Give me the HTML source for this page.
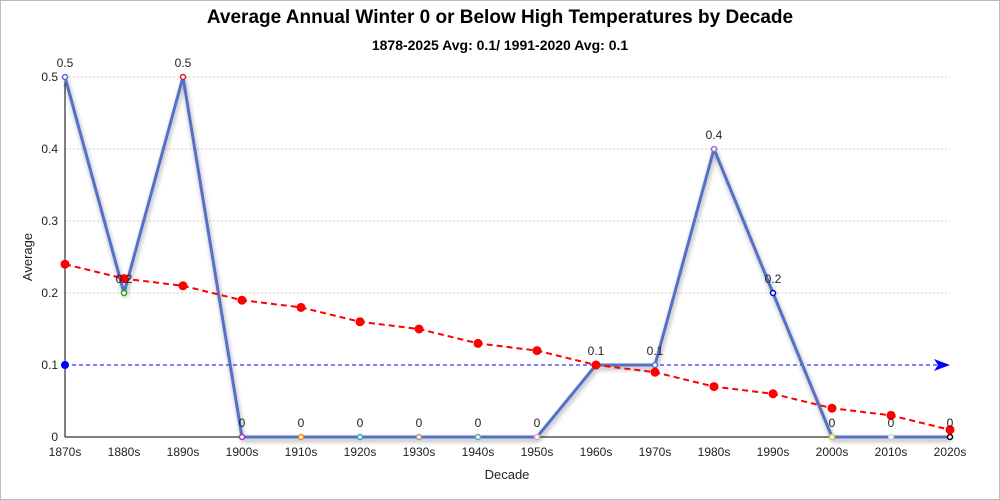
<!DOCTYPE html>
<html><head><meta charset="utf-8"><style>
html,body{margin:0;padding:0;background:#fff}
svg{display:block;font-family:"Liberation Sans","DejaVu Sans",sans-serif}
</style></head><body>
<svg width="1000" height="500" viewBox="0 0 1000 500">
<defs><filter id="sh" x="-10%" y="-10%" width="120%" height="130%"><feDropShadow dx="1" dy="3" stdDeviation="2.5" flood-color="#000" flood-opacity="0.35"/></filter></defs>
<rect x="0.5" y="0.5" width="999" height="499" fill="#fff" stroke="#bbb"/>
<text x="500" y="23" text-anchor="middle" font-size="19" font-weight="bold">Average Annual Winter 0 or Below High Temperatures by Decade</text>
<text x="500" y="50" text-anchor="middle" font-size="14" font-weight="bold">1878-2025 Avg: 0.1/ 1991-2020 Avg: 0.1</text>
<g stroke="#ccc" stroke-dasharray="2,2" stroke-width="1">
<line x1="65" x2="950" y1="77" y2="77"/><line x1="65" x2="950" y1="149" y2="149"/><line x1="65" x2="950" y1="221" y2="221"/><line x1="65" x2="950" y1="293" y2="293"/>
</g>
<line x1="65" y1="77" x2="65" y2="437" stroke="#000"/>
<line x1="65" y1="437" x2="950" y2="437" stroke="#000"/>
<g font-size="12" text-anchor="end" fill="#222">
<text x="58" y="81">0.5</text><text x="58" y="153">0.4</text><text x="58" y="225">0.3</text><text x="58" y="297">0.2</text><text x="58" y="369">0.1</text><text x="58" y="441">0</text>
</g>
<g font-size="12" text-anchor="middle" fill="#222">
<text x="65" y="456">1870s</text><text x="124" y="456">1880s</text><text x="183" y="456">1890s</text><text x="242" y="456">1900s</text><text x="301" y="456">1910s</text><text x="360" y="456">1920s</text><text x="419" y="456">1930s</text><text x="478" y="456">1940s</text><text x="537" y="456">1950s</text><text x="596" y="456">1960s</text><text x="655" y="456">1970s</text><text x="714" y="456">1980s</text><text x="773" y="456">1990s</text><text x="832" y="456">2000s</text><text x="891" y="456">2010s</text><text x="950" y="456">2020s</text>
</g>
<text x="507" y="479" text-anchor="middle" font-size="13" fill="#222">Decade</text>
<text transform="translate(32,257) rotate(-90)" text-anchor="middle" font-size="13" fill="#222">Average</text>
<line x1="65" y1="365" x2="940" y2="365" stroke="#00f" stroke-dasharray="4,3"/>
<polygon points="950,365 934,359 938,365 934,371" fill="#00f"/>
<circle cx="65" cy="365" r="4" fill="#00f"/>
<polyline filter="url(#sh)" fill="none" stroke="#5470c6" stroke-width="3" stroke-linejoin="round" points="65,77 124,293 183,77 242,437 301,437 360,437 419,437 478,437 537,437 596,365 655,365 714,149 773,293 832,437 891,437 950,437"/>
<g fill="#fff" stroke-width="1.5">
<circle cx="65" cy="77" r="2.5" stroke="#5470c6"/><circle cx="124" cy="293" r="2.5" stroke="#2a2"/><circle cx="183" cy="77" r="2.5" stroke="#c23"/><circle cx="242" cy="437" r="2.5" stroke="#a3c"/><circle cx="301" cy="437" r="2.5" stroke="#e80"/><circle cx="360" cy="437" r="2.5" stroke="#2aa"/><circle cx="419" cy="437" r="2.5" stroke="#a98"/><circle cx="478" cy="437" r="2.5" stroke="#6aa"/><circle cx="537" cy="437" r="2.5" stroke="#dab"/><circle cx="596" cy="365" r="2.5" stroke="#c33"/><circle cx="655" cy="365" r="2.5" stroke="#5470c6"/><circle cx="714" cy="149" r="2.5" stroke="#96c"/><circle cx="773" cy="293" r="2.5" stroke="#00c"/><circle cx="832" cy="437" r="2.5" stroke="#cc3"/><circle cx="891" cy="437" r="2.5" stroke="#ccd"/><circle cx="950" cy="437" r="2.5" stroke="#000"/>
</g>
<polyline fill="none" stroke="#f00" stroke-width="2" stroke-dasharray="6,4" points="65,264.2 124,278.6 183,285.8 242,300.2 301,307.4 360,321.8 419,329 478,343.4 537,350.6 596,365 655,372.2 714,386.6 773,393.8 832,408.2 891,415.4 950,429.8"/>
<g fill="#f00">
<circle cx="65" cy="264.2" r="4.5"/><circle cx="124" cy="278.6" r="4.5"/><circle cx="183" cy="285.8" r="4.5"/><circle cx="242" cy="300.2" r="4.5"/><circle cx="301" cy="307.4" r="4.5"/><circle cx="360" cy="321.8" r="4.5"/><circle cx="419" cy="329" r="4.5"/><circle cx="478" cy="343.4" r="4.5"/><circle cx="537" cy="350.6" r="4.5"/><circle cx="596" cy="365" r="4.5"/><circle cx="655" cy="372.2" r="4.5"/><circle cx="714" cy="386.6" r="4.5"/><circle cx="773" cy="393.8" r="4.5"/><circle cx="832" cy="408.2" r="4.5"/><circle cx="891" cy="415.4" r="4.5"/><circle cx="950" cy="429.8" r="4.5"/>
</g>
<g font-size="12" text-anchor="middle" fill="#222">
<text x="65" y="67">0.5</text><text x="124" y="283">0.2</text><text x="183" y="67">0.5</text><text x="242" y="427">0</text><text x="301" y="427">0</text><text x="360" y="427">0</text><text x="419" y="427">0</text><text x="478" y="427">0</text><text x="537" y="427">0</text><text x="596" y="355">0.1</text><text x="655" y="355">0.1</text><text x="714" y="139">0.4</text><text x="773" y="283">0.2</text><text x="832" y="427">0</text><text x="891" y="427">0</text><text x="950" y="427">0</text>
</g>
</svg>
</body></html>
